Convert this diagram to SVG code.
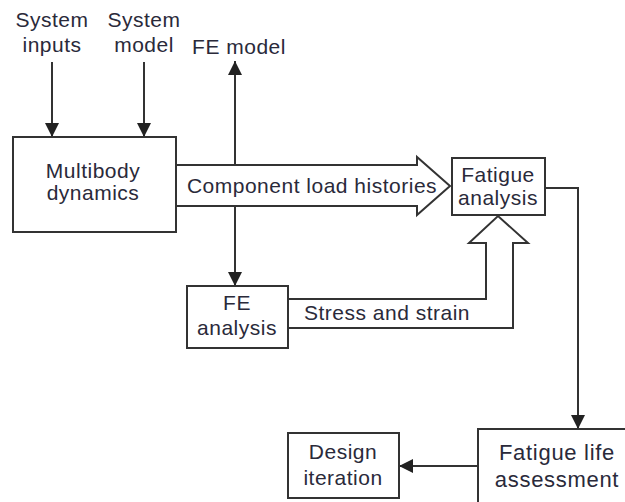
<svg xmlns="http://www.w3.org/2000/svg" width="625" height="502" viewBox="0 0 625 502">
<style>
.box{fill:#fff;stroke:#333;stroke-width:2}
.ln{fill:none;stroke:#333;stroke-width:2}
.big{fill:#fff;stroke:#333;stroke-width:2;stroke-linejoin:miter}
text{font-family:"Liberation Sans",Arial,sans-serif;font-size:21px;fill:#2a2a3a;text-anchor:middle;letter-spacing:0.5px}
.lg{font-size:22px;letter-spacing:0.7px}
</style>
<defs>
<marker id="ahl" viewBox="0 0 10 10" refX="10" refY="5" markerWidth="14" markerHeight="14" markerUnits="userSpaceOnUse" orient="auto">
<path d="M0,0 L10,5 L0,10 z" fill="#222"/>
</marker>
</defs>
<g id="labels">
<text x="52" y="27">System</text>
<text x="52" y="52">inputs</text>
<text x="144" y="27">System</text>
<text x="144" y="52">model</text>
<text x="239" y="54">FE model</text>
</g>
<g id="connectors">
<line class="ln" x1="52" y1="62" x2="52" y2="137" marker-end="url(#ahl)"/>
<line class="ln" x1="144" y1="62" x2="144" y2="137" marker-end="url(#ahl)"/>
<line class="ln" x1="235" y1="165" x2="235" y2="61" marker-end="url(#ahl)"/>
<line class="ln" x1="235" y1="205" x2="235" y2="286" marker-end="url(#ahl)"/>
<polyline class="ln" points="545,188 578,188 578,429" marker-end="url(#ahl)"/>
<line class="ln" x1="478" y1="466" x2="399" y2="466" marker-end="url(#ahl)"/>
<path id="load-arrow" class="big" d="M176,165 L417,165 L417,157 L450,186 L417,215 L417,206 L176,206 Z"/>
<path id="stress-arrow" class="big" d="M288,299 L486,299 L486,243 L469,243 L498,216 L528,243 L513,243 L513,328 L288,328"/>
<text x="312" y="193">Component load histories</text>
<text x="387" y="320">Stress and strain</text>
</g>
<g id="multibody">
<rect class="box" x="13" y="137" width="163" height="95"/>
<text x="93" y="178">Multibody</text>
<text x="93" y="200">dynamics</text>
</g>
<g id="fatigue-analysis">
<rect class="box" x="452" y="158" width="93" height="57"/>
<text x="498" y="182">Fatigue</text>
<text x="498" y="205">analysis</text>
</g>
<g id="fe-analysis">
<rect class="box" x="187" y="286" width="101" height="62"/>
<text x="237" y="310">FE</text>
<text x="237" y="335">analysis</text>
</g>
<g id="fatigue-life">
<rect class="box" x="478" y="429" width="160" height="80"/>
<text class="lg" x="557" y="460">Fatigue life</text>
<text class="lg" x="557" y="487">assessment</text>
</g>
<g id="design-iteration">
<rect class="box" x="288" y="433" width="111" height="65"/>
<text x="343" y="459">Design</text>
<text x="343" y="485">iteration</text>
</g>
</svg>
